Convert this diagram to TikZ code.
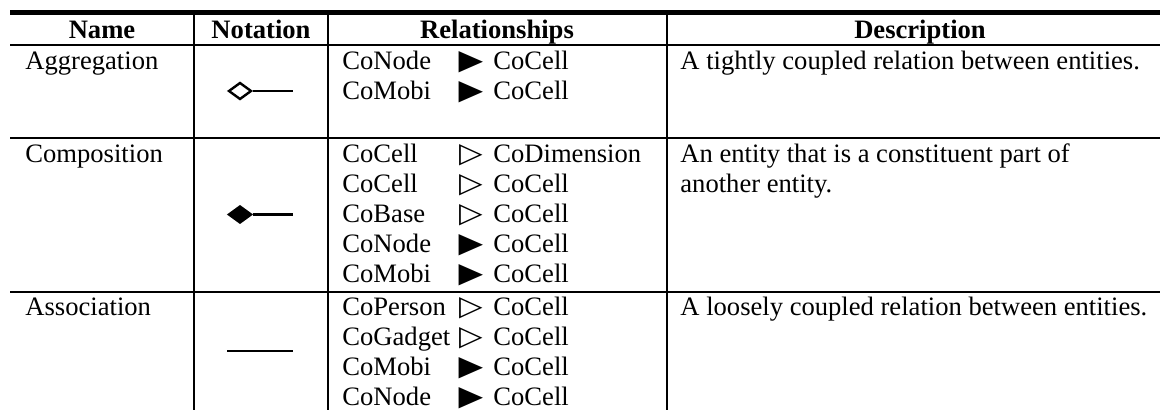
\documentclass[tikz,border=0pt]{standalone}
\usepackage{fontspec}
\setmainfont{Liberation Serif}
\newfontfamily\symfont{DejaVu Sans}
\usetikzlibrary{shapes.geometric}

% arrow marks used in the relationship column
\newcommand{\fulltri}{\scalebox{1.2}[1.05]{\symfont ▶}}
\newcommand{\opentri}{\scalebox{1.15}[1.05]{\symfont ▷}}

\tikzset{
  cell/.style={anchor=base west, inner sep=0pt, font=\fontsize{13.3}{15}\selectfont},
  head/.style={anchor=base, inner sep=0pt, font=\fontsize{13.3}{15}\selectfont\bfseries},
  arrowmark/.style={anchor=base, inner sep=0pt, font=\fontsize{13.3}{15}\selectfont},
  rule/.style={line width=0.6pt},
  toprule/.style={line width=2.4pt},
  link/.style={line width=1.3pt},
  hollowdiamond/.style={diamond, draw, line width=1.2pt, inner sep=0pt,
    minimum width=11.5pt, minimum height=8.5pt, fill=white},
  soliddiamond/.style={hollowdiamond, fill=black}
}

\begin{document}
\begin{tikzpicture}[x=0.5pt, y=-0.5pt]
  \useasboundingbox (0,0) rectangle (1160,410);

  % Rules of the table
  \draw[toprule] (10,12.5) -- (1160,12.5);
  \foreach \y in {45,138,292}
    \draw[rule] (10,\y) -- (1160,\y);
  \foreach \x in {194,328,667}
    \draw[rule] (\x,12.5) -- (\x,410);

  % Header
  \node[head] (hname) at (102,39) {Name};
  \node[head] (hnote) at (261,39) {Notation};
  \node[head] (hrel) at (497,39) {Relationships};
  \node[head] (hdesc) at (920,39) {Description};

  % Names
  \node[cell] (aggr) at (25,70) {Aggregation};
  \node[cell] (comp) at (25,163) {Composition};
  \node[cell] (assoc) at (25,316) {Association};

  % Notation symbols
  \node[hollowdiamond] (aggrsym) at (240,91) {};
  \coordinate (aggrend) at (293,91);
  \draw[link] (aggrsym.east) -- (aggrend);

  \node[soliddiamond] (compsym) at (240,214.5) {};
  \coordinate (compend) at (293,214.5);
  \draw[link] (compsym.east) -- (compend);

  \coordinate (assocstart) at (227,351);
  \coordinate (assocend) at (293,351);
  \draw[link] (assocstart) -- (assocend);

  % Relationships
  \foreach \y/\src/\tri/\dst [count=\i] in {
      70/CoNode/\fulltri/CoCell,
      100/CoMobi/\fulltri/CoCell,
      163/CoCell/\opentri/CoDimension,
      193/CoCell/\opentri/CoCell,
      223/CoBase/\opentri/CoCell,
      253/CoNode/\fulltri/CoCell,
      283/CoMobi/\fulltri/CoCell,
      316/CoPerson/\opentri/CoCell,
      346/CoGadget/\opentri/CoCell,
      376/CoMobi/\fulltri/CoCell,
      406/CoNode/\fulltri/CoCell}
  {
    \node[cell] (src\i) at (342,\y) {\src};
    \node[arrowmark] (tri\i) at (471,\y) {\tri};
    \node[cell] (dst\i) at (493,\y) {\dst};
  }

  % Descriptions
  \node[cell] (aggrdesc) at (680,70) {A tightly coupled relation between entities.};
  \node[cell] (compdesc) at (680,163) {An entity that is a constituent part of};
  \node[cell] (compdescb) at (680,193) {another entity.};
  \node[cell] (assocdesc) at (680,316) {A loosely coupled relation between entities.};
\end{tikzpicture}
\end{document}
